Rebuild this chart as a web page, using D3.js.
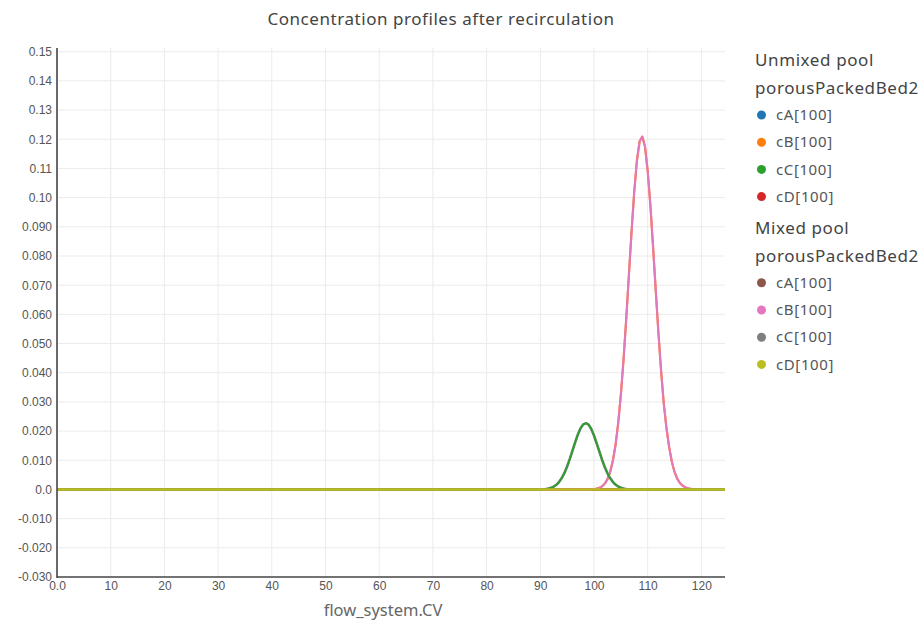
<!DOCTYPE html>
<html>
<head>
<meta charset="utf-8">
<script src="https://cdn.jsdelivr.net/npm/d3@7"></script>
<style>
  html, body { margin: 0; padding: 0; background: #fff; }
  svg { display: block; }
</style>
</head>
<body>
<svg id="chart" width="923" height="621"></svg>
<script>
// ---- data ----------------------------------------------------------------
const chartTitle = "Concentration profiles after recirculation";
const xTitle = "flow_system.CV";

const xTicks = [0, 10, 20, 30, 40, 50, 60, 70, 80, 90, 100, 110, 120];
const xTickLabels = ["0.0", "10", "20", "30", "40", "50", "60", "70", "80", "90", "100", "110", "120"];
const yTicks = [0.15, 0.14, 0.13, 0.12, 0.11, 0.10, 0.09, 0.08, 0.07, 0.06, 0.05, 0.04, 0.03, 0.02, 0.01, 0, -0.01, -0.02, -0.03];
const yTickLabels = ["0.15", "0.14", "0.13", "0.12", "0.11", "0.10", "0.090", "0.080", "0.070", "0.060", "0.050", "0.040", "0.030", "0.020", "0.010", "0.0", "-0.010", "-0.020", "-0.030"];

// flat profiles (species not present at the outlet)
const flatX = [0, 124.4];
const flatY = [0, 0];

// cC profile along the column
const cCX = [0, 90, 91, 91.5, 92, 92.5, 93, 93.5, 94, 94.5, 95, 95.5, 96, 96.5, 97, 97.5, 98, 98.5,
             99, 99.5, 100, 100.5, 101, 101.5, 102, 102.5, 103, 103.5, 104, 104.5, 105, 105.5, 106, 107, 124.4];
const cCY = [0, 0, 0.00015, 0.0003, 0.00056, 0.00097, 0.0016, 0.00256, 0.0039, 0.00566, 0.00787, 0.01046, 0.0133, 0.01618, 0.01883, 0.02095, 0.0223, 0.0227,
             0.0222, 0.0207, 0.0185, 0.0158, 0.0130, 0.0102, 0.0077, 0.0056, 0.0039, 0.0026, 0.0017, 0.0010, 0.0006, 0.0003, 0.00015, 0, 0];

// cB profile along the column
const cBX = [0, 99, 100, 100.5, 101, 101.5, 102, 102.5, 103, 103.5, 104, 104.5, 105, 105.5, 106, 106.5, 107, 107.5, 108, 108.5,
             109, 109.5, 110, 110.5, 111, 111.5, 112, 112.5, 113, 113.5, 114, 114.5, 115, 115.5, 116, 116.5, 117, 117.5, 118, 118.5, 119.5, 124.4];
const cBY = [0, 0, 0.000125, 0.000265, 0.00054, 0.00105, 0.00194, 0.00346, 0.00589, 0.00963, 0.01505, 0.02253, 0.0323, 0.04436, 0.0583, 0.0734, 0.0884, 0.1021, 0.1128, 0.1193,
             0.1209, 0.1175, 0.1092, 0.0975, 0.0833, 0.0683, 0.0537, 0.0406, 0.0294, 0.0210, 0.0145, 0.0095, 0.0060, 0.0037, 0.0022, 0.0013, 0.0007, 0.0004, 0.0002, 0.0001, 0, 0];

const groupNames = ["Unmixed pool", "Mixed pool"];
const unitName = "porousPackedBed2";
const speciesNames = ["cA[100]", "cB[100]", "cC[100]", "cD[100]"];
const unmixedColors = ["#1f77b4", "#ff7f0e", "#2ca02c", "#d62728"];
const mixedColors = ["#8c564b", "#e377c2", "#7f7f7f", "#bcbd22"];

// which profile each species follows
const speciesProfiles = [
  { x: flatX, y: flatY },
  { x: cBX, y: cBY },
  { x: cCX, y: cCY },
  { x: flatX, y: flatY }
];

// ---- layout --------------------------------------------------------------
const svg = d3.select("#chart");
const plot = { left: 57, right: 725, top: 48, bottom: 577 };

const x = d3.scaleLinear().domain([0, 124.4]).range([plot.left, plot.right]);
const y = d3.scaleLinear().domain([-0.03, 0.15127]).range([plot.bottom, plot.top]);

const tickFont = "'Liberation Sans', Arial, sans-serif";
const uiFont = "'Noto Sans', 'Open Sans', sans-serif";

// grid
const grid = svg.append("g");
grid.selectAll("line.gx").data(xTicks.slice(1)).join("line")
  .attr("x1", d => x(d)).attr("x2", d => x(d))
  .attr("y1", plot.top).attr("y2", plot.bottom)
  .attr("stroke", "#ebebeb").attr("stroke-width", 1);
grid.selectAll("line.gy").data(yTicks.filter(v => v > -0.03)).join("line")
  .attr("x1", plot.left).attr("x2", plot.right)
  .attr("y1", d => y(d)).attr("y2", d => y(d))
  .attr("stroke", "#ebebeb").attr("stroke-width", 1);

// axes
const yAxis = d3.axisLeft(y).tickValues(yTicks)
  .tickFormat((d, i) => yTickLabels[i]).tickSize(0).tickPadding(5);
const gy = svg.append("g").attr("transform", `translate(${plot.left},0)`).call(yAxis);
gy.select(".domain").remove();
gy.selectAll("text").attr("font-family", tickFont).attr("font-size", 12).attr("fill", "#555");

const xAxis = d3.axisBottom(x).tickValues(xTicks)
  .tickFormat((d, i) => xTickLabels[i]).tickSize(0).tickPadding(4);
const gx = svg.append("g").attr("transform", `translate(0,${plot.bottom})`).call(xAxis);
gx.select(".domain").remove();
gx.selectAll("text").attr("font-family", tickFont).attr("font-size", 12).attr("fill", "#555");

// series: each trace is [group, species index, width]; the green trace is laid over its grey twin
const drawOrder = [
  [0, 0, 2.2], [0, 1, 2.2], [0, 3, 2.4],
  [1, 0, 2.2], [1, 1, 2.0], [1, 2, 2.6], [0, 2, 1.8], [1, 3, 2.4]
];
const line = d3.line().x(d => x(d[0])).y(d => y(d[1]));
const lines = svg.append("g");
drawOrder.forEach(([g, i, w]) => {
  const p = speciesProfiles[i];
  const pts = p.x.map((v, k) => [v, p.y[k]]);
  lines.append("path").datum(pts)
    .attr("d", line).attr("fill", "none")
    .attr("stroke", (g === 0 ? unmixedColors : mixedColors)[i]).attr("stroke-width", w)
    .attr("stroke-linejoin", "round");
});

// axis lines on top
svg.append("line").attr("x1", plot.left).attr("x2", plot.left)
  .attr("y1", plot.top).attr("y2", plot.bottom + 1)
  .attr("stroke", "#444").attr("stroke-width", 1.6);
svg.append("line").attr("x1", plot.left).attr("x2", plot.right)
  .attr("y1", plot.bottom).attr("y2", plot.bottom)
  .attr("stroke", "#444").attr("stroke-width", 1.6);

// titles
svg.append("text").attr("x", 441).attr("y", 25).attr("text-anchor", "middle")
  .attr("font-family", uiFont).attr("font-size", 17).attr("letter-spacing", 0.55)
  .attr("fill", "#444").text(chartTitle);
svg.append("text").attr("x", 383).attr("y", 616).attr("text-anchor", "middle")
  .attr("font-family", uiFont).attr("font-size", 16.5).attr("fill", "#666").text(xTitle);

// legend
const legend = svg.append("g");
const itemGap = 27.2;
let rowY = 60;
[unmixedColors, mixedColors].forEach((colors, g) => {
  legend.append("text").attr("x", 755).attr("y", rowY).attr("dy", "0.35em")
    .attr("font-family", uiFont).attr("font-size", 17).attr("letter-spacing", 0.6)
    .attr("fill", "#444").text(groupNames[g]);
  rowY += 28.5;
  legend.append("text").attr("x", 755).attr("y", rowY).attr("dy", "0.35em")
    .attr("font-family", uiFont).attr("font-size", 17).attr("letter-spacing", 0.6)
    .attr("fill", "#444").text(unitName);
  rowY += 26.5;
  speciesNames.forEach((name, i) => {
    legend.append("circle").attr("cx", 761.5).attr("cy", rowY).attr("r", 4.5).attr("fill", colors[i]);
    legend.append("text").attr("x", 776).attr("y", rowY).attr("dy", "0.35em")
      .attr("font-family", uiFont).attr("font-size", 15).attr("letter-spacing", 0.6)
      .attr("fill", "#555").text(name);
    rowY += itemGap;
  });
  rowY += 4;
});
</script>
</body>
</html>
